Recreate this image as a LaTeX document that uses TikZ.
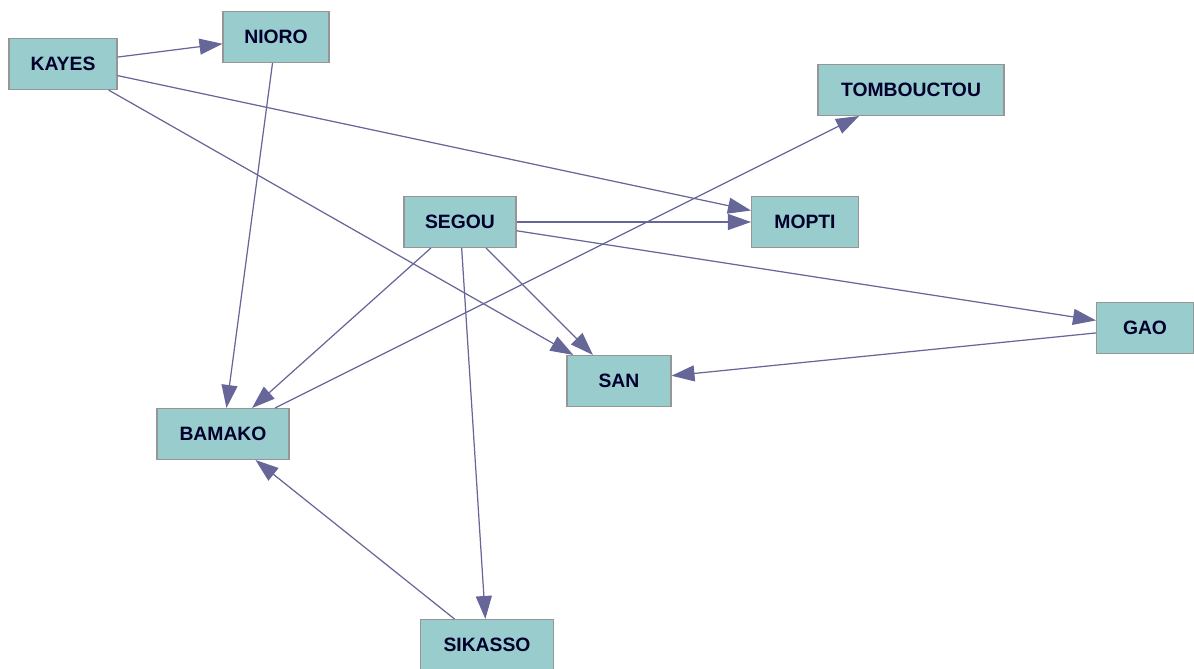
\documentclass[tikz,border=0pt]{standalone}
\usepackage{fontspec}
\setmainfont{Liberation Sans}
\usetikzlibrary{arrows.meta,positioning}

\begin{document}
\begin{tikzpicture}[x=0.02cm, y=-0.02cm,
        city/.style={draw=citygray, fill=cityfill, text=citytext, line width=0.6pt,
            minimum height=1.02cm, inner sep=0pt, font=\fontsize{11}{13}\selectfont\bfseries},
        link/.style={draw=linkblue, line width=0.7pt, -{Triangle[length=0.46cm, width=0.32cm]}}]
        \definecolor{cityfill}{RGB}{153,204,204}
        \definecolor{citygray}{RGB}{150,150,150}
        \definecolor{citytext}{RGB}{0,0,45}
        \definecolor{linkblue}{RGB}{102,102,153}

        % Fix the picture size (pixels of the original)
        \useasboundingbox (0,0) rectangle (1194,669);

        % Towns
        \node[city, minimum width=2.16cm] (kayes) at (63,64) {KAYES};
        \node[city, minimum width=2.12cm] (nioro) at (276,37) {NIORO};
        \node[city, minimum width=3.72cm] (tombouctou) at (911,90) {TOMBOUCTOU};
        \node[city, minimum width=2.24cm] (segou) at (460,222) {SEGOU};
        \node[city, minimum width=2.14cm] (mopti) at (805,222) {MOPTI};
        \node[city, minimum width=1.94cm] (gao) at (1145,328) {GAO};
        \node[city, minimum width=2.08cm] (san) at (619,381) {SAN};
        \node[city, minimum width=2.64cm] (bamako) at (223,434) {BAMAKO};
        \node[city, minimum width=2.66cm] (sikasso) at (487,645) {SIKASSO};

        % Arrows between towns
        \draw[link] (kayes) -- (nioro);
        \draw[link] (kayes) -- (mopti);
        \draw[link] (kayes) -- (san);
        \draw[link] (nioro) -- (bamako);
        \draw[link] (bamako) -- (tombouctou);
        \draw[link] (segou) -- (mopti);
        \draw[link] (segou) -- (gao);
        \draw[link] (segou) -- (san);
        \draw[link] (segou) -- (bamako);
        \draw[link] (segou) -- (sikasso);
        \draw[link] (sikasso) -- (bamako);
        \draw[link] (gao) -- (san);
    \end{tikzpicture}
\end{document}
